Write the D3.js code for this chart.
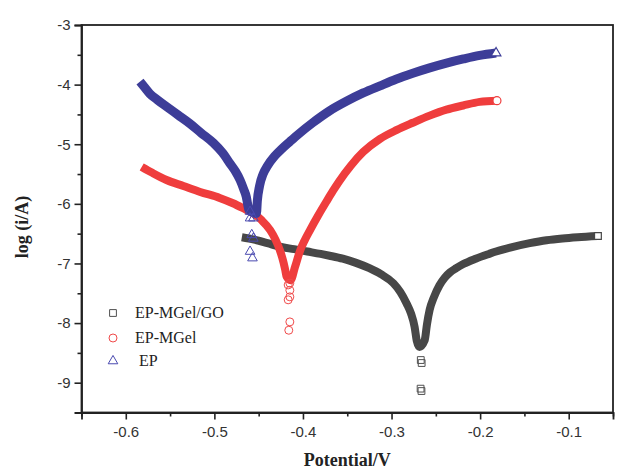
<!DOCTYPE html>
<html>
<head>
<meta charset="utf-8">
<script src="https://cdn.jsdelivr.net/npm/d3@7"></script>
<style>
  html, body { margin: 0; padding: 0; background: #fff; }
  svg { display: block; }
</style>
</head>
<body>
<svg id="chart" width="621" height="470"></svg>
<script>
// ---- data ----
const xTicks = [-0.6, -0.5, -0.4, -0.3, -0.2, -0.1];
const yTicks = [-9, -8, -7, -6, -5, -4, -3];
const seriesNames = ["EP-MGel/GO", "EP-MGel", " EP"];

// EP-MGel/GO (squares)
const goPotential = [-0.469, -0.455, -0.440, -0.426, -0.410, -0.395, -0.380, -0.370, -0.355, -0.340, -0.325, -0.312, -0.298, -0.290, -0.283, -0.278, -0.274, -0.2715, -0.2685,
  -0.2626, -0.260, -0.257, -0.252, -0.246, -0.240, -0.234, -0.227, -0.219, -0.205, -0.190, -0.182, -0.165, -0.144, -0.125, -0.107, -0.090, -0.067];
const goLog = [-6.56, -6.60, -6.66, -6.72, -6.76, -6.80, -6.84, -6.87, -6.92, -6.99, -7.08, -7.18, -7.33, -7.48, -7.67, -7.84, -8.06, -8.30, -8.40,
  -8.29, -8.02, -7.78, -7.56, -7.37, -7.24, -7.15, -7.08, -7.01, -6.92, -6.84, -6.80, -6.73, -6.66, -6.61, -6.58, -6.56, -6.54];
const goTipPotential = [-0.2670, -0.2660, -0.2672, -0.2662];
const goTipLog = [-8.62, -8.67, -9.10, -9.14];

// EP-MGel (circles)
const mgPotential = [-0.582, -0.570, -0.554, -0.535, -0.516, -0.494, -0.479, -0.464, -0.456, -0.447, -0.437, -0.431, -0.426, -0.422, -0.420, -0.4185, -0.414,
  -0.409, -0.4036, -0.398, -0.392, -0.383, -0.373, -0.366, -0.359, -0.346, -0.332, -0.313, -0.294, -0.276, -0.257, -0.238, -0.219, -0.2005, -0.181];
const mgLog = [-5.38, -5.48, -5.60, -5.70, -5.80, -5.90, -5.99, -6.10, -6.16, -6.27, -6.44, -6.60, -6.78, -6.98, -7.11, -7.22, -7.28,
  -7.06, -6.80, -6.61, -6.44, -6.20, -5.95, -5.78, -5.62, -5.36, -5.13, -4.91, -4.76, -4.64, -4.52, -4.42, -4.35, -4.29, -4.27];
const mgTipPotential = [-0.4167, -0.4148, -0.4148, -0.4148, -0.4167, -0.4148, -0.4160];
const mgTipLog = [-7.36, -7.33, -7.45, -7.56, -7.61, -7.98, -8.12];

// EP (triangles)
const epPotential = [-0.584, -0.578, -0.573, -0.564, -0.554, -0.541, -0.528, -0.515, -0.501, -0.491, -0.4825, -0.476, -0.471, -0.467, -0.464, -0.4625, -0.461,
  -0.4525, -0.4515, -0.449, -0.445, -0.440, -0.432, -0.424, -0.415, -0.405, -0.389, -0.370, -0.351, -0.332, -0.313, -0.295, -0.276, -0.257, -0.238, -0.219, -0.2005, -0.182];
const epLog = [-3.95, -4.06, -4.15, -4.26, -4.37, -4.51, -4.65, -4.81, -4.98, -5.14, -5.32, -5.46, -5.60, -5.75, -5.88, -6.00, -6.10,
  -6.16, -5.95, -5.70, -5.50, -5.36, -5.20, -5.08, -4.96, -4.83, -4.64, -4.44, -4.28, -4.14, -4.02, -3.91, -3.81, -3.72, -3.64, -3.57, -3.51, -3.47];
const epTipPotential = [-0.4597, -0.4597, -0.4560, -0.4578, -0.4560, -0.4597, -0.4570];
const epTipLog = [-6.13, -6.24, -6.24, -6.52, -6.58, -6.80, -6.91];

// ---- layout ----
const svg = d3.select("#chart");
const pLeft = 81.5, pRight = 613, pTop = 25, pBottom = 412.5;
const x = d3.scaleLinear().domain([-0.65, -0.05]).range([pLeft, pRight]);
const y = d3.scaleLinear().domain([-9.5, -3]).range([pBottom, pTop]);
const axisColor = "#222";

const zip = (a, b) => a.map((v, i) => [v, b[i]]);
const series = [
  { name: seriesNames[0], band: zip(goPotential, goLog), tip: zip(goTipPotential, goTipLog), color: "#474747", mark: "#505050", sym: d3.symbolSquare, size: 46, bw: 8 },
  { name: seriesNames[1], band: zip(mgPotential, mgLog), tip: zip(mgTipPotential, mgTipLog), color: "#ef3d3d", mark: "#f04a4a", sym: d3.symbolCircle, size: 50, bw: 8 },
  { name: seriesNames[2], band: zip(epPotential, epLog), tip: zip(epTipPotential, epTipLog), color: "#3d3d98", mark: "#4a4ab0", sym: d3.symbolTriangle, size: 40, bw: 9 }
];

// bands
const line = d3.line().x(d => x(d[0])).y(d => y(d[1])).curve(d3.curveMonotoneX);
const plot = svg.append("g");
series.forEach(s => {
  plot.append("path").attr("d", line(s.band))
    .attr("fill", "none").attr("stroke", s.color).attr("stroke-width", s.bw)
    .attr("stroke-linejoin", "round").attr("stroke-linecap", "butt");
  const sym = d3.symbol().type(s.sym).size(s.size);
  plot.selectAll(null).data(s.tip).join("path")
    .attr("transform", d => `translate(${x(d[0])},${y(d[1])})`)
    .attr("d", sym).attr("fill", "none").attr("stroke", s.mark).attr("stroke-width", 1);
  const last = s.band[s.band.length - 1];
  plot.append("path").attr("transform", `translate(${x(last[0])},${y(last[1])})`)
    .attr("d", sym).attr("fill", "#fff").attr("stroke", s.color).attr("stroke-width", 1.2);
});

// frame
svg.append("rect").attr("x", pLeft).attr("y", pTop).attr("width", pRight - pLeft).attr("height", pBottom - pTop)
  .attr("fill", "none").attr("stroke", axisColor).attr("stroke-width", 1.8);

// axes
const fontTick = "'Liberation Sans', Arial, sans-serif";
const yAxis = d3.axisLeft(y).tickValues(yTicks).tickSize(7).tickPadding(4).tickFormat(d3.format("d"));
const gy = svg.append("g").attr("transform", `translate(${pLeft},0)`).call(yAxis);
const yMinor = d3.axisLeft(y).tickValues(d3.range(-9.5, -3, 1)).tickSize(4).tickFormat("");
svg.append("g").attr("transform", `translate(${pLeft},0)`).call(yMinor).call(g => g.select(".domain").remove())
  .selectAll("line").attr("stroke", axisColor).attr("stroke-width", 1.6);

const xAxis = d3.axisBottom(x).tickValues(xTicks).tickSize(7).tickPadding(7).tickFormat(d3.format(".1f"));
const gx = svg.append("g").attr("transform", `translate(0,${pBottom})`).call(xAxis);
const xMinor = d3.axisBottom(x).tickValues(d3.range(-0.65, -0.04, 0.1)).tickSize(4).tickFormat("");
svg.append("g").attr("transform", `translate(0,${pBottom})`).call(xMinor).call(g => g.select(".domain").remove())
  .selectAll("line").attr("stroke", axisColor).attr("stroke-width", 1.6);

[gx, gy].forEach(g => {
  g.select(".domain").attr("stroke", axisColor).attr("stroke-width", 1.8);
  g.selectAll(".tick line").attr("stroke", axisColor).attr("stroke-width", 1.6);
  g.selectAll(".tick text").attr("font-family", fontTick).attr("font-size", 15).attr("fill", "#333");
});
gx.selectAll(".tick text").text(d => d3.format(".1f")(d).replace("−", "-"));
gy.selectAll(".tick text").text(d => String(d).replace("−", "-"));

// axis titles
svg.append("text").attr("x", (pLeft + pRight) / 2).attr("y", 466).attr("text-anchor", "middle")
  .attr("font-family", "'Liberation Serif', 'Times New Roman', serif").attr("font-weight", "bold")
  .attr("font-size", 18).attr("fill", "#222").text("Potential/V");
svg.append("text").attr("transform", "translate(28,227) rotate(-90)").attr("text-anchor", "middle")
  .attr("font-family", "'Liberation Serif', 'Times New Roman', serif").attr("font-weight", "bold")
  .attr("font-size", 18).attr("fill", "#222").text("log (i/A)");

// legend
const legendY = [313, 338, 361];
series.forEach((s, i) => {
  svg.append("path").attr("transform", `translate(113,${legendY[i]})`)
    .attr("d", d3.symbol().type(s.sym).size(s.size)).attr("fill", "none")
    .attr("stroke", s.mark).attr("stroke-width", 1);
  svg.append("text").attr("x", 135).attr("y", legendY[i] + 5)
    .attr("font-family", "'Liberation Serif', 'Times New Roman', serif").attr("font-size", 16)
    .attr("fill", "#222").style("white-space", "pre").text(s.name);
});
</script>
</body>
</html>
